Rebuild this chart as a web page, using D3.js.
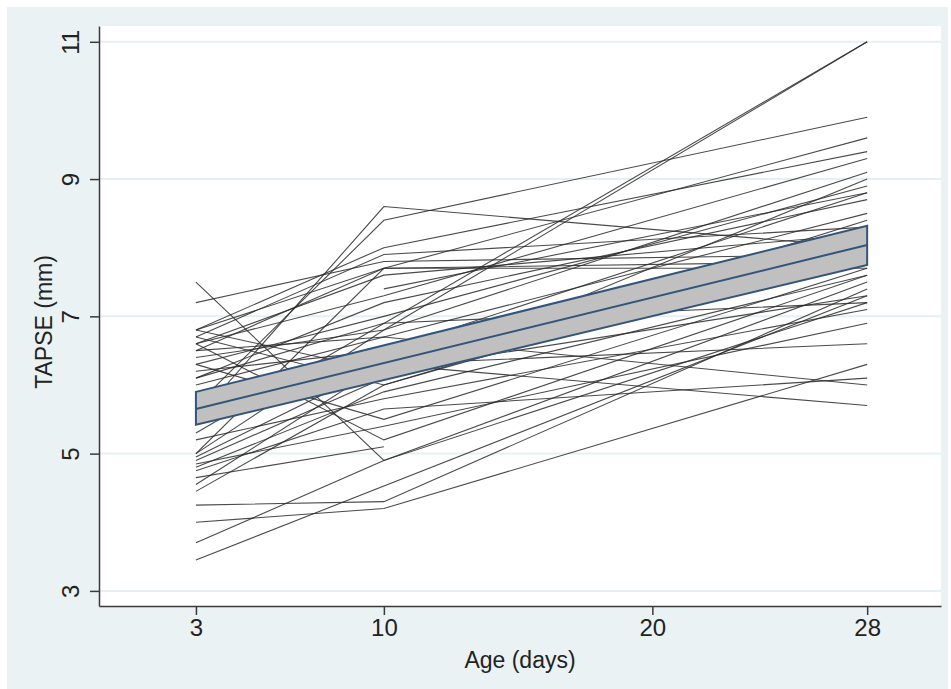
<!DOCTYPE html>
<html>
<head>
<meta charset="utf-8">
<script src="https://cdn.jsdelivr.net/npm/d3@7"></script>
<style>
  body { margin: 0; background: #ffffff; }
  text { font-family: "Liberation Sans", Arial, sans-serif; fill: #222; }
</style>
</head>
<body>
<svg id="chart" width="951" height="689"></svg>
<script>
// ---- data ----
const visitDays = [3, 10, 28];
const xTicks = [3, 10, 20, 28];
const yTicks = [3, 5, 7, 9, 11];
// TAPSE (mm) per infant at each visit (null = not measured)
const tapseDay3  = [5.0, 5.3, 5.7, 5.5, 7.2, 7.5, 6.8, 6.8, 6.7, 6.6, 6.5, 6.4, 6.3, 6.2, 6.1, 6.0, 5.8, 4.45, 4.8, 4.95, 6.5, 4.75, 4.55, 4.0, 3.7, 3.45, 4.25, 4.65, 4.85, 5.2, 6.3, 6.7, 6.6, 5.0, 6.8, 6.6, null, 4.9, 6.1];
const tapseDay10 = [6.8, null, 8.4, 8.6, 7.8, 4.9, 7.7, 8.0, 7.9, 7.3, 7.7, 6.8, 7.0, 6.5, 7.2, 6.7, 6.2, 6.0, 5.9, 6.3, 6.7, 5.65, 6.3, 4.2, 4.9, null, 4.3, 5.1, 5.4, 5.8, 5.5, 6.0, 5.2, 7.7, 6.2, 7.6, 7.4, 6.1, 6.9];
const tapseDay28 = [11.0, 11.0, 9.9, 8.0, 7.9, 7.2, 9.6, 9.4, 8.3, 9.3, 7.8, 9.1, 8.9, 8.8, 8.7, 8.5, 8.4, 8.1, 7.6, 5.7, 6.0, 6.1, 6.6, 6.3, 7.5, 7.3, 7.4, null, 6.9, 7.1, 7.7, 8.0, 7.6, 7.7, 7.3, 8.2, 8.8, 9.0, 7.2];
// fitted mean with 95% CI
const fitDays  = [3, 28];
const fitMean  = [5.65, 8.04];
const fitLower = [5.42, 7.75];
const fitUpper = [5.90, 8.32];

// ---- layout ----
const svg = d3.select("#chart");
const plot = { left: 99, right: 941, top: 26, bottom: 606 };

svg.append("rect").attr("x", 7).attr("y", 7).attr("width", 941).attr("height", 682)
  .attr("fill", "#eaf2f3");
svg.append("rect").attr("x", plot.left).attr("y", plot.top)
  .attr("width", plot.right - plot.left).attr("height", plot.bottom - plot.top)
  .attr("fill", "#ffffff");

const x = d3.scaleLinear().domain([-0.61, 30.75]).range([plot.left, plot.right]);
const y = d3.scaleLinear().domain([2.78, 11.23]).range([plot.bottom, plot.top]);

// gridlines
svg.append("g").selectAll("line").data(yTicks).join("line")
  .attr("x1", plot.left).attr("x2", plot.right)
  .attr("y1", d => y(d)).attr("y2", d => y(d))
  .attr("stroke", "#e6eff1").attr("stroke-width", 2);

// subject trajectories
const subjects = tapseDay3.map((v, i) =>
  [tapseDay3[i], tapseDay10[i], tapseDay28[i]]
    .map((val, j) => ({ day: visitDays[j], val }))
    .filter(p => p.val !== null));

const line = d3.line().x(d => x(d.day)).y(d => y(d.val));
svg.append("g").selectAll("path").data(subjects).join("path")
  .attr("d", line)
  .attr("fill", "none")
  .attr("stroke", "#2a2a2a")
  .attr("stroke-opacity", 0.85)
  .attr("stroke-width", 1.1);

// CI band
const band = fitDays.map((d, i) => ({ day: d, lo: fitLower[i], hi: fitUpper[i], m: fitMean[i] }));
const area = d3.area().x(d => x(d.day)).y0(d => y(d.lo)).y1(d => y(d.hi));
svg.append("path")
  .attr("d", area(band) + "Z")
  .attr("fill", "#c0c0c0")
  .attr("stroke", "#33557a")
  .attr("stroke-width", 2)
  .attr("stroke-linejoin", "miter");
svg.append("path").datum(band)
  .attr("d", d3.line().x(d => x(d.day)).y(d => y(d.m)))
  .attr("fill", "none")
  .attr("stroke", "#33557a")
  .attr("stroke-width", 2);

// axes
const yAxis = svg.append("g").attr("transform", `translate(${plot.left},0)`)
  .call(d3.axisLeft(y).tickValues(yTicks).tickFormat(d3.format("d")).tickSize(9).tickSizeOuter(0));
yAxis.select(".domain").attr("stroke", "#3a3a3a").attr("stroke-width", 1.5);
yAxis.selectAll(".tick line").attr("stroke", "#3a3a3a").attr("stroke-width", 1.5);
yAxis.selectAll(".tick text")
  .attr("x", 0).attr("dy", 0)
  .attr("transform", "translate(-20,0) rotate(-90)")
  .attr("text-anchor", "middle")
  .style("font-size", "24px").attr("fill", "#222");

const xAxis = svg.append("g").attr("transform", `translate(0,${plot.bottom})`)
  .call(d3.axisBottom(x).tickValues(xTicks).tickFormat(d3.format("d")).tickSize(9).tickSizeOuter(0));
xAxis.select(".domain").attr("stroke", "#3a3a3a").attr("stroke-width", 1.5);
xAxis.selectAll(".tick line").attr("stroke", "#3a3a3a").attr("stroke-width", 1.5);
xAxis.selectAll(".tick text")
  .attr("y", 13).attr("dy", "0.71em")
  .style("font-size", "24px").attr("fill", "#222");

// titles
svg.append("text")
  .attr("x", (plot.left + plot.right) / 2).attr("y", 668)
  .attr("text-anchor", "middle").style("font-size", "23px")
  .text("Age (days)");
svg.append("text")
  .attr("transform", `translate(52,${(plot.top + plot.bottom) / 2 + 6}) rotate(-90)`)
  .attr("text-anchor", "middle").style("font-size", "23px")
  .text("TAPSE (mm)");
</script>
</body>
</html>
